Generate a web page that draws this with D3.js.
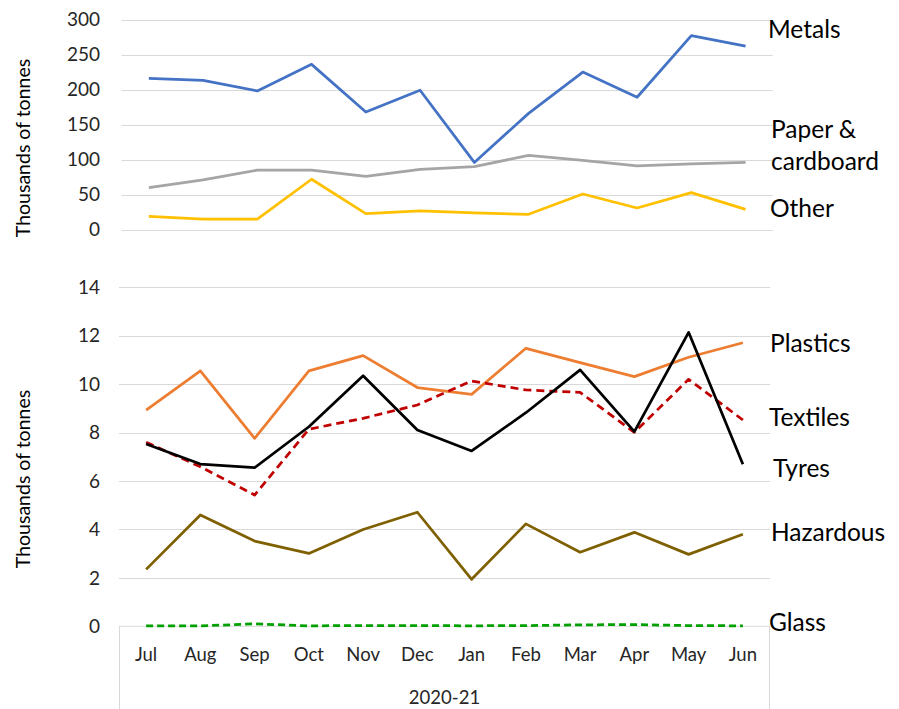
<!DOCTYPE html>
<html>
<head>
<meta charset="utf-8">
<script src="https://cdn.jsdelivr.net/npm/d3@7"></script>
<style>
    body { margin: 0; background: #fff; }
    svg text { font-family: Lato, "Open Sans", sans-serif; fill: #000; }
    .grid line { stroke: #d9d9d9; stroke-width: 1; }
    .tick-label { font-size: 19px; fill: #262626; }
    .month-label { font-size: 18.5px; fill: #262626; }
    .series-label { font-size: 24.5px; }
    .axis-title { font-size: 19.5px; }
</style>
</head>
<body>
<div id="chart"></div>
<script>
const width = 899
const height = 709

const months = ["Jul", "Aug", "Sep", "Oct", "Nov", "Dec", "Jan", "Feb", "Mar", "Apr", "May", "Jun"]
const yearLabel = "2020-21"
const axisTitle = "Thousands of tonnes"

// top panel
const metals = [216, 213, 198, 236, 168, 199, 96, 166, 225, 189, 277, 262]
const paper = [60, 71, 85, 85, 76, 86, 90, 106, 99, 91, 94, 96]
const other = [19, 15, 15, 72, 23, 27, 24, 22, 51, 31, 53, 29]
const topTicks = [0, 50, 100, 150, 200, 250, 300]

// bottom panel
const plastics = [8.93, 10.55, 7.76, 10.55, 11.18, 9.86, 9.58, 11.48, 10.89, 10.31, 11.11, 11.71]
const textiles = [7.6, 6.59, 5.42, 8.14, 8.59, 9.14, 10.13, 9.76, 9.66, 8.01, 10.2, 8.52]
const tyres = [7.53, 6.7, 6.55, 8.24, 10.35, 8.11, 7.24, 8.82, 10.59, 8.04, 12.14, 6.69]
const hazardous = [2.35, 4.6, 3.52, 3.01, 4.0, 4.71, 1.94, 4.23, 3.06, 3.88, 2.97, 3.8]
const glass = [0.02, 0.02, 0.1, 0.02, 0.03, 0.03, 0.02, 0.03, 0.06, 0.07, 0.03, 0.02]
const bottomTicks = [0, 2, 4, 6, 8, 10, 12, 14]

const svg = d3.select("#chart")
    .append("svg")
    .attr("width", width)
    .attr("height", height)

// ---- top panel ----
const xTop = d3.scalePoint().domain(months).range([121.7, 772.7]).padding(0.5)
const yTop = d3.scaleLinear().domain([0, 300]).range([229.7, 19.5])

drawGrid(svg, topTicks, yTop, 121.7, 772.7)
addTickLabels(svg, topTicks, yTop)

const topSeries = [
    {name: "Other", values: other, color: "#ffc000", dash: null},
    {name: "Paper", values: paper, color: "#a5a5a5", dash: null},
    {name: "Metals", values: metals, color: "#4472c4", dash: null}
]
topSeries.forEach(s => drawSeries(svg, s, xTop, yTop))

addTitle(svg, axisTitle, 23, 148)

// ---- bottom panel ----
const xBot = d3.scalePoint().domain(months).range([119, 770]).padding(0.5)
const yBot = d3.scaleLinear().domain([0, 14]).range([626.3, 287.3])

drawGrid(svg, bottomTicks.filter(d => d > 0), yBot, 119, 770)
addTickLabels(svg, bottomTicks, yBot)
// category axis frame
svg.append("line").attr("x1", 119).attr("x2", 770).attr("y1", yBot(0)).attr("y2", yBot(0))
    .style("stroke", "#d9d9d9")
svg.append("line").attr("x1", 119.5).attr("x2", 119.5).attr("y1", yBot(0)).attr("y2", height)
    .style("stroke", "#d9d9d9")
svg.append("line").attr("x1", 769.5).attr("x2", 769.5).attr("y1", yBot(0)).attr("y2", height)
    .style("stroke", "#d9d9d9")

const bottomSeries = [
    {name: "Glass", values: glass, color: "#00a000", dash: "7,4"},
    {name: "Hazardous", values: hazardous, color: "#7f6000", dash: null},
    {name: "Plastics", values: plastics, color: "#ed7d31", dash: null},
    {name: "Textiles", values: textiles, color: "#c00000", dash: "8,5"},
    {name: "Tyres", values: tyres, color: "#000000", dash: null}
]
bottomSeries.forEach(s => drawSeries(svg, s, xBot, yBot))

months.forEach(m => {
    svg.append("text")
        .attr("class", "month-label")
        .attr("x", xBot(m))
        .attr("y", 655)
        .attr("dy", "0.35em")
        .attr("text-anchor", "middle")
        .text(m)
})
svg.append("text")
    .attr("class", "month-label")
    .attr("x", 444.5)
    .attr("y", 698)
    .attr("dy", "0.35em")
    .attr("text-anchor", "middle")
    .text(yearLabel)

addTitle(svg, axisTitle, 23, 479)

// series labels at right
const labels = [
    {text: ["Metals"], x: 768, y: 38},
    {text: ["Paper &", "cardboard"], x: 771, y: 138},
    {text: ["Other"], x: 770, y: 217},
    {text: ["Plastics"], x: 770, y: 352},
    {text: ["Textiles"], x: 769, y: 426},
    {text: ["Tyres"], x: 773, y: 477},
    {text: ["Hazardous"], x: 771, y: 541},
    {text: ["Glass"], x: 769, y: 631}
]
labels.forEach(l => {
    let t = svg.append("text").attr("class", "series-label").attr("x", l.x).attr("y", l.y)
    l.text.forEach((line, i) => {
        t.append("tspan").attr("x", l.x).attr("dy", i == 0 ? 0 : 32).text(line)
    })
})

function drawGrid(svg, ticks, y, x1, x2) {
    svg.append("g").attr("class", "grid")
        .selectAll("line")
        .data(ticks)
        .enter()
        .append("line")
        .attr("x1", x1)
        .attr("x2", x2)
        .attr("y1", d => Math.round(y(d)) + 0.5)
        .attr("y2", d => Math.round(y(d)) + 0.5)
}

function addTickLabels(svg, ticks, y) {
    ticks.forEach(t => {
        svg.append("text")
            .attr("class", "tick-label")
            .attr("x", 100)
            .attr("y", y(t))
            .attr("dy", "0.35em")
            .attr("text-anchor", "end")
            .text(t)
    })
}

function drawSeries(svg, s, x, y) {
    let line = d3.line()
        .x((d, i) => x(months[i]))
        .y(d => y(d))
    svg.append("path")
        .datum(s.values)
        .attr("d", line)
        .style("fill", "none")
        .style("stroke", s.color)
        .style("stroke-width", 2.75)
        .style("stroke-linejoin", "round")
        .style("stroke-dasharray", s.dash)
}

function addTitle(svg, text, x, y) {
    svg.append("text")
        .attr("class", "axis-title")
        .attr("transform", `translate(${x},${y}) rotate(-90)`)
        .attr("dy", "0.35em")
        .attr("text-anchor", "middle")
        .text(text)
}
</script>
</body>
</html>
